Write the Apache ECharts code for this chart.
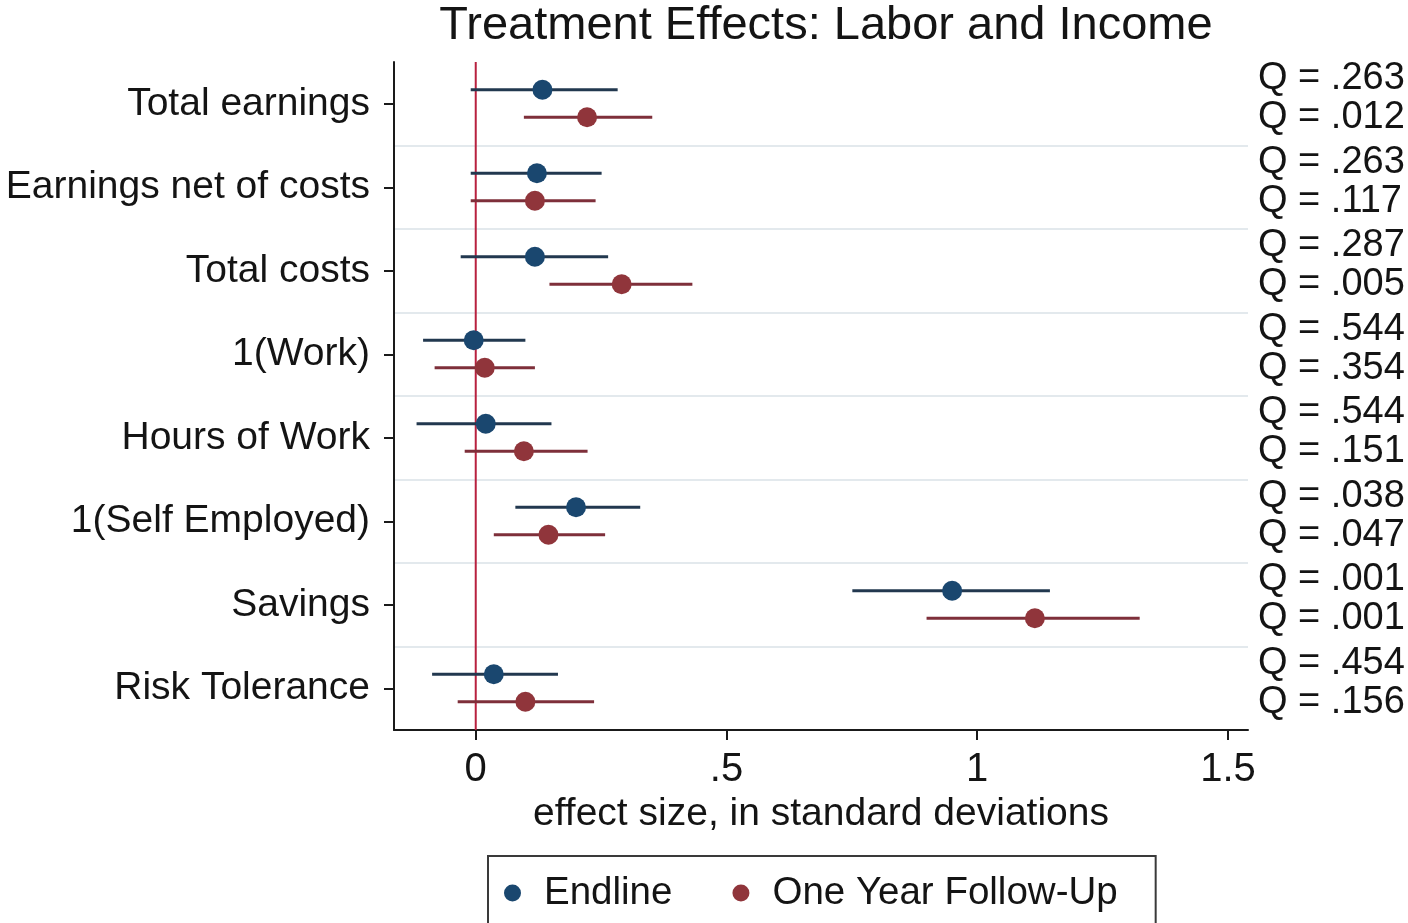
<!DOCTYPE html>
<html>
<head>
<meta charset="utf-8">
<script src="https://cdn.jsdelivr.net/npm/echarts@6/dist/echarts.min.js"></script>
<style>
  html, body { margin: 0; padding: 0; background: #ffffff; }
  #chart { width: 1408px; height: 923px; }
</style>
</head>
<body>
<div id="chart"></div>
<script>
// Outcomes (top to bottom)
const outcomes = [
  'Total earnings', 'Earnings net of costs', 'Total costs', '1(Work)',
  'Hours of Work', '1(Self Employed)', 'Savings', 'Risk Tolerance'
];

// Endline point estimates and 95% confidence bounds (SD units)
const endlineEst = [0.133, 0.122, 0.118, -0.004, 0.020, 0.200, 0.950, 0.036];
const endlineLo  = [-0.010, -0.010, -0.030, -0.105, -0.118, 0.079, 0.751, -0.087];
const endlineHi  = [0.283, 0.251, 0.264, 0.099, 0.151, 0.328, 1.145, 0.164];

// One-year follow-up point estimates and 95% confidence bounds
const followEst = [0.222, 0.118, 0.291, 0.018, 0.096, 0.145, 1.115, 0.099];
const followLo  = [0.096, -0.010, 0.147, -0.082, -0.022, 0.036, 0.899, -0.036];
const followHi  = [0.352, 0.239, 0.432, 0.118, 0.223, 0.258, 1.324, 0.236];

// Sharpened q-values
const endlineQ = ['.263', '.263', '.287', '.544', '.544', '.038', '.001', '.454'];
const followQ  = ['.012', '.117', '.005', '.354', '.151', '.047', '.001', '.156'];

// Axis ticks
const xTicks = [0, 0.5, 1, 1.5];
const xTickLabels = ['0', '.5', '1', '1.5'];

// Reference line at zero effect
const zeroLine = [0];

const FONT = '"Liberation Sans", Arial, Helvetica, sans-serif';
const ENDLINE_DOT = '#1a476f';
const FOLLOW_DOT = '#90353b';
const ENDLINE_LINE = '#22384f';
const FOLLOW_LINE = '#7e2f3a';
const ZERO_COLOR = '#b8213f';

function rows(est, lo, hi) {
  return est.map((e, i) => [e, lo[i], hi[i], i]);
}

// Draws a CI bar + point, shifted within the outcome band, plus its q-value on the right
function makeRender(qLabels, dy, qdy, lineColor, dotColor) {
  return function (params, api) {
    const i = api.value(3);
    const pEst = api.coord([api.value(0), i]);
    const pLo = api.coord([api.value(1), i]);
    const pHi = api.coord([api.value(2), i]);
    const cs = params.coordSys;
    const y = pEst[1] + dy;
    return {
      type: 'group',
      children: [
        { type: 'line', shape: { x1: pLo[0], y1: y, x2: pHi[0], y2: y },
          style: { stroke: lineColor, lineWidth: 3 } },
        { type: 'circle', shape: { cx: pEst[0], cy: y, r: 10 },
          style: { fill: dotColor } },
        { type: 'text', x: cs.x + cs.width + 10, y: pEst[1] + qdy,
          style: { text: 'Q = ' + qLabels[params.dataIndex], fill: '#141414',
                   font: '38px ' + FONT, verticalAlign: 'middle', align: 'left' } }
      ]
    };
  };
}

const chart = echarts.init(document.getElementById('chart'), null, { renderer: 'canvas' });

chart.setOption({
  backgroundColor: '#ffffff',
  animation: false,
  title: {
    text: 'Treatment Effects: Labor and Income',
    left: 821, textAlign: 'center', top: -2,
    textStyle: { fontFamily: FONT, fontSize: 47, fontWeight: 'normal', color: '#141414' }
  },
  legend: {
    left: 488, top: 856,
    orient: 'horizontal',
    icon: 'circle',
    itemWidth: 17, itemHeight: 17,
    itemGap: 60,
    padding: [17, 38, 40, 16],
    borderColor: '#3a3a3a', borderWidth: 2,
    textStyle: { fontFamily: FONT, fontSize: 38.5, color: '#141414', lineHeight: 40, padding: [0, 0, 0, 18] },
    data: ['Endline', 'One Year Follow-Up']
  },
  grid: { left: 394, right: 160, top: 62, bottom: 193, containLabel: false },
  xAxis: {
    type: 'value',
    min: -0.163, max: 1.54,
    name: 'effect size, in standard deviations',
    nameLocation: 'middle', nameGap: 59,
    nameTextStyle: { fontFamily: FONT, fontSize: 39, color: '#141414' },
    axisLine: { show: true, onZero: false, lineStyle: { color: '#1a1a1a', width: 2 } },
    axisTick: { show: true, length: 10, lineStyle: { color: '#1a1a1a', width: 2 }, customValues: xTicks },
    axisLabel: {
      show: true, margin: 20, customValues: xTicks,
      fontFamily: FONT, fontSize: 40, color: '#141414',
      formatter: v => xTickLabels[xTicks.indexOf(v)] ?? ''
    },
    splitLine: { show: false }
  },
  yAxis: {
    type: 'category',
    inverse: true,
    data: outcomes,
    boundaryGap: true,
    axisLine: { show: true, onZero: false, lineStyle: { color: '#1a1a1a', width: 2 } },
    axisTick: { show: true, alignWithLabel: true, length: 10, lineStyle: { color: '#1a1a1a', width: 2 } },
    axisLabel: { margin: 24, fontFamily: FONT, fontSize: 39, color: '#141414' },
    splitLine: {
      show: true,
      interval: idx => idx !== 0,
      lineStyle: { color: '#e3e9ed', width: 2 }
    }
  },
  series: [
    {
      name: 'zero',
      type: 'custom',
      coordinateSystem: 'cartesian2d',
      silent: true,
      encode: { x: 0 },
      data: zeroLine.map(v => [v]),
      z: 2,
      renderItem: function (params, api) {
        const cs = params.coordSys;
        const x = api.coord([api.value(0), 0])[0];
        return { type: 'line', shape: { x1: x, y1: cs.y, x2: x, y2: cs.y + cs.height },
                 style: { stroke: ZERO_COLOR, lineWidth: 2 } };
      }
    },
    {
      name: 'Endline',
      type: 'custom',
      coordinateSystem: 'cartesian2d',
      itemStyle: { color: ENDLINE_DOT },
      encode: { x: [0, 1, 2], y: 3 },
      renderItem: makeRender(endlineQ, -14, -25, ENDLINE_LINE, ENDLINE_DOT),
      data: rows(endlineEst, endlineLo, endlineHi),
      z: 3
    },
    {
      name: 'One Year Follow-Up',
      type: 'custom',
      coordinateSystem: 'cartesian2d',
      itemStyle: { color: FOLLOW_DOT },
      encode: { x: [0, 1, 2], y: 3 },
      renderItem: makeRender(followQ, 13.5, 14, FOLLOW_LINE, FOLLOW_DOT),
      data: rows(followEst, followLo, followHi),
      z: 3
    }
  ]
});
</script>
</body>
</html>
